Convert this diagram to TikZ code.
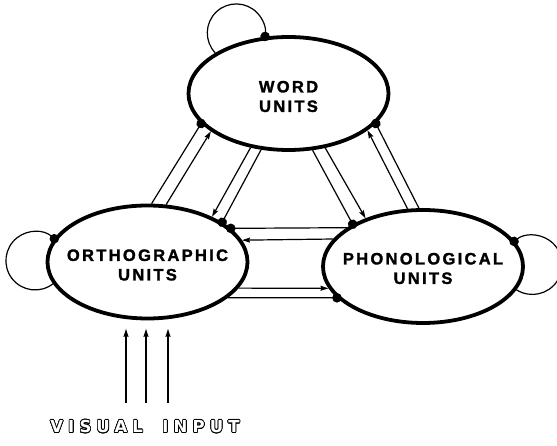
\documentclass[tikz,border=0pt]{standalone}
\usepackage{fontspec}
\usepackage{contour}
\usetikzlibrary{arrows.meta,shapes.geometric}
\newfontfamily\unitfont{Liberation Sans Bold}[LetterSpace=14, FakeBold=1.6]
\newfontfamily\inputfont{DejaVu Sans}[LetterSpace=31, WordSpace=1.8]
\contourlength{0.75pt}

\begin{document}
\begin{tikzpicture}[x=1pt, y=1pt, >={Stealth[length=8pt, width=5pt, inset=1pt]}]
  \tikzset{
    unit/.style={draw, ellipse, line width=3.8pt, minimum width=200pt, minimum height=113pt, inner sep=0pt},
    unitname/.style={font=\unitfont\fontsize{16.5}{19.5}\selectfont, align=center, inner sep=0pt},
    excite/.style={->, line width=1.2pt},
    inhibit/.style={-{Circle[length=9.5pt]}, line width=1.2pt, shorten >=-4.75pt},
  }
  \useasboundingbox (0,0) rectangle (557,446);

  \node[unit] (word) at (288.5,352.5) {};
  \node[unit] (ortho) at (147.5,184) {};
  \node[unit] (phono) at (423,179.5) {};
  \node[unitname] (wordname) at ([yshift=-3pt]word.center) {WORD\\UNITS};
  \node[unitname] (orthoname) at ([yshift=-3pt]ortho.center) {ORTHOGRAPHIC\\UNITS};
  \node[unitname] (phononame) at ([yshift=-2pt]phono.center) {PHONOLOGICAL\\UNITS};

  \draw[inhibit] (ortho.86) -- (word.199);
  \draw[excite] (ortho.72) -- (word.206);
  \draw[excite] (word.235) -- (ortho.35);
  \draw[inhibit] (word.244) -- (ortho.28);

  \draw[inhibit] (word.293) -- (phono.149);
  \draw[excite] (word.304) -- (phono.140);
  \draw[excite] (phono.105) -- (word.335);
  \draw[inhibit] (phono.94) -- (word.341);

  \draw[inhibit] (phono.153) -- (ortho.22);
  \draw[excite] (phono.163) -- (ortho.13);
  \draw[excite] (ortho.344) -- (phono.193);
  \draw[inhibit] (ortho.336) -- (phono.200);

  % self connections
  \draw[inhibit] (word.151) arc[start angle=223.5, end angle=-7, radius=29pt];
  \draw[inhibit] (ortho.193) arc[start angle=-52.3, end angle=-311.1, radius=29.2pt];
  \draw[inhibit] (phono.346) arc[start angle=-122.5, end angle=128.1, radius=29.7pt];

  \node[text=white, font=\inputfont\bfseries\fontsize{16.5}{20}\selectfont, inner sep=0pt] (visualinput) at (145,19) {\contour{black}{VISUAL INPUT}};
  \foreach \x [count=\i] in {126,146,168} {
    \coordinate (vin\i) at (\x,43);
    \draw[excite, shorten >=8.5pt] (vin\i) -- (vin\i |- ortho.south);
  }
\end{tikzpicture}
\end{document}
